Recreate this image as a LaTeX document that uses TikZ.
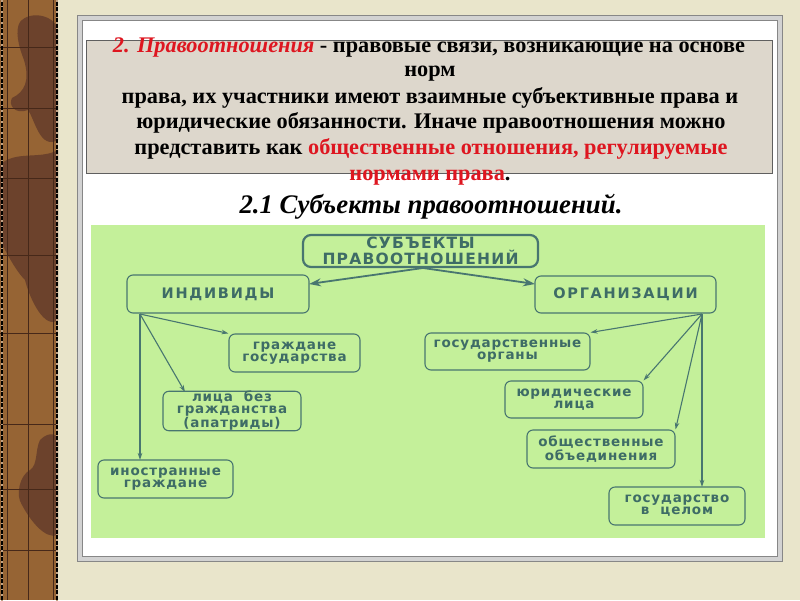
\documentclass[tikz,border=0pt]{standalone}
\usepackage{fontspec}
\setmainfont{Liberation Serif}
\newfontfamily\diafont[LetterSpace=6]{DejaVu Sans}
\newfontfamily\capfont[LetterSpace=12]{DejaVu Sans}
\newfontfamily\topfont[LetterSpace=8]{DejaVu Sans}
\usetikzlibrary{arrows.meta,calc}
\definecolor{bgcol}{RGB}{233,229,203}
\definecolor{brownA}{RGB}{150,100,52}
\definecolor{brownB}{RGB}{108,66,44}
\definecolor{gridcol}{RGB}{70,40,25}
\definecolor{framemid}{RGB}{210,210,210}
\definecolor{frameline}{RGB}{135,135,135}
\definecolor{boxgray}{RGB}{221,215,204}
\definecolor{boxline}{RGB}{95,95,95}
\definecolor{greenbg}{RGB}{196,240,154}
\definecolor{linecol}{RGB}{72,118,112}
\definecolor{txtcol}{RGB}{62,108,102}
\definecolor{redtxt}{RGB}{222,22,32}
\begin{document}
\begin{tikzpicture}[x=1pt,y=-1pt,
  dbox/.style={draw=linecol, line width=1.1pt, rounded corners=6pt, align=center, text=txtcol,
    inner sep=0pt, font=\diafont\bfseries\fontsize{13.5}{12}\selectfont},
  capbox/.style={dbox, font=\capfont\bfseries\fontsize{14.5}{14.5}\selectfont},
  topbox/.style={dbox, line width=2.2pt, rounded corners=8pt, font=\topfont\bfseries\fontsize{15.5}{13.5}\selectfont},
  arr/.style={draw=linecol, line width=1.1pt, -{Stealth[length=7pt,width=4.5pt]}},
  bigarr/.style={draw=linecol, line width=1.8pt, -{Stealth[length=12pt,width=8pt]}},
  hdr/.style={anchor=base, font=\bfseries\fontsize{22.3}{25}\selectfont},
]
\useasboundingbox (0,0) rectangle (800,600);
% background
\fill[bgcol] (0,0) rectangle (800,600);
% brown strip
\fill[brownA] (0,0) rectangle (58,600);
\fill[brownB] (20,22) .. controls (30,10) and (55,15) .. (58,30) -- (58,140) .. controls (40,150) and (35,120) .. (28,110)
  .. controls (15,115) and (8,105) .. (12,98) .. controls (25,92) and (30,80) .. (24,60) .. controls (18,45) and (15,30) .. (20,22) -- cycle;
\fill[brownB] (0,165) .. controls (15,150) and (40,160) .. (58,150) -- (58,320) .. controls (45,330) and (30,300) .. (25,280)
  .. controls (15,270) and (5,250) .. (0,240) -- cycle;
\fill[brownB] (40,440) .. controls (50,430) and (58,435) .. (58,440) -- (58,535) .. controls (45,540) and (30,520) .. (22,505)
  .. controls (15,495) and (20,475) .. (30,470) .. controls (38,465) and (35,450) .. (40,440) -- cycle;
\draw[gridcol, line width=0.5pt] (7,0) -- (7,600) (28,0) -- (28,600) (53,0) -- (53,600);
\foreach \yy in {47,108,178,255,333,424,489,550}{
  \draw[gridcol, line width=0.5pt] (0,\yy) -- (58,\yy);
}
\draw[black, line width=2pt] (2,0) -- (2,600) (57,0) -- (57,600);
\draw[brownA!60!white, line width=2pt, dash pattern=on 1.5pt off 4pt] (2,0) -- (2,600) (57,0) -- (57,600);
% frame
\fill[framemid] (77,15) rectangle (782,561);
\draw[frameline, line width=1pt] (77,15) rectangle (782,561);
\fill[white] (82,20) rectangle (777,556);
\draw[frameline, line width=1pt] (82,20) rectangle (777,556);
% gray box
\fill[boxgray] (86,40) rectangle (772,173);
\draw[boxline, line width=1pt] (86,40) rectangle (772,173);
% header text
\node[hdr] (l1) at (429,52) {\textcolor{redtxt}{\itshape 2. Правоотношения} - правовые связи, возникающие на основе};
\node[hdr] (l2) at (430,76) {норм};
\node[hdr] (l3) at (430,103) {права, их участники имеют взаимные субъективные права и};
\node[hdr] (l4) at (431,128) {юридические обязанности. Иначе правоотношения можно};
\node[hdr] (l5) at (431,154) {представить как \textcolor{redtxt}{общественные отношения, регулируемые}};
\node[hdr] (l6) at (430,180) {\textcolor{redtxt}{нормами права}.};
\node[anchor=base, font=\bfseries\itshape\fontsize{26.8}{30}\selectfont] (title) at (431,213) {2.1 Субъекты правоотношений.};
% green area
\fill[greenbg] (91,225) rectangle (765,538);
% diagram
\node[topbox, minimum width=235pt, minimum height=32pt] (subj) at (420.5,251) {СУБЪЕКТЫ\\ПРАВООТНОШЕНИЙ};
\node[capbox, minimum width=182pt, minimum height=38pt] (ind) at (218,294) {ИНДИВИДЫ};
\node[capbox, minimum width=181pt, minimum height=37pt] (org) at (625.5,294.5) {ОРГАНИЗАЦИИ};
\node[dbox, minimum width=131pt, minimum height=38pt] (gg) at (294.5,353) {граждане\\государства};
\node[dbox, minimum width=138pt, minimum height=38pt] (lbg) at (232,411) {лица~ без\\гражданства\\(апатриды)};
\node[dbox, minimum width=135pt, minimum height=38pt] (ig) at (165.5,479) {иностранные\\граждане};
\node[dbox, minimum width=165pt, minimum height=37pt] (go) at (507.5,351.5) {государственные\\органы};
\node[dbox, minimum width=138pt, minimum height=37pt] (yl) at (574,399.5) {юридические\\лица};
\node[dbox, minimum width=148pt, minimum height=38pt] (oo) at (601,449) {общественные\\объединения};
\node[dbox, minimum width=136pt, minimum height=38pt] (gc) at (677,506) {государство\\в~ целом};
% connector coordinates
\coordinate (sout) at (423,268);
\coordinate (iout) at (140,314);
\coordinate (oout) at (702,314);
\coordinate (lbgin) at (185,392);
\coordinate (igin) at (140,460);
\coordinate (gcin) at (702,487);
\coordinate (indin) at (309,284);
\coordinate (orgin) at (535,284);
\draw[bigarr] (sout) -- (indin);
\draw[bigarr] (sout) -- (orgin);
\draw[arr] (iout) -- (gg.north west);
\draw[arr] (iout) -- (lbgin);
\draw[arr] (iout) -- (igin);
\draw[arr] (oout) -- (go.north east);
\draw[arr] (oout) -- (yl.north east);
\draw[arr] (oout) -- (oo.north east);
\draw[arr] (oout) -- (gcin);
\end{tikzpicture}
\end{document}
